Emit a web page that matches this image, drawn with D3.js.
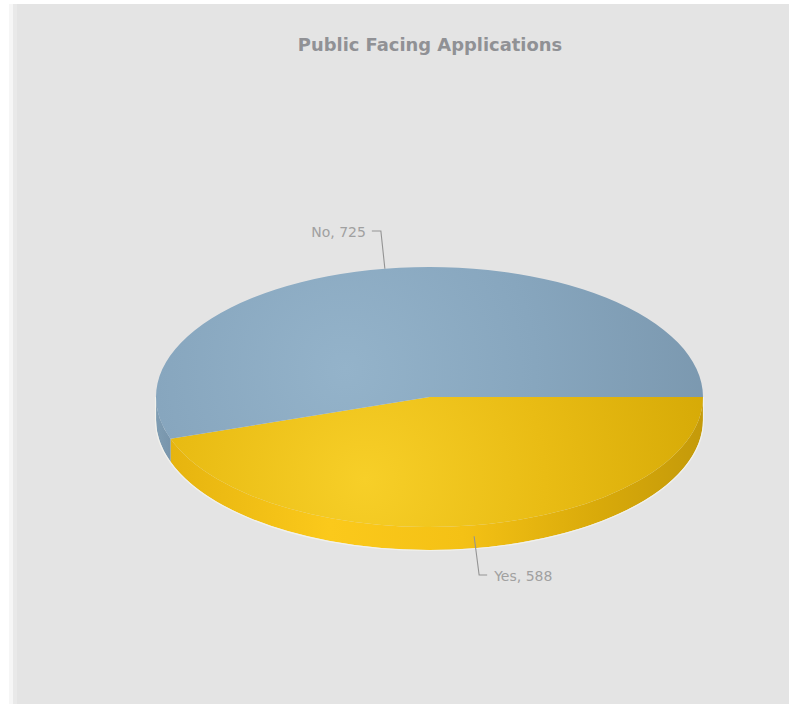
<!DOCTYPE html>
<html>
<head>
<meta charset="utf-8">
<script src="https://cdn.jsdelivr.net/npm/d3@7/dist/d3.min.js"></script>
<style>
  html, body { margin: 0; padding: 0; background: #fff; }
  svg { display: block; }
  text { font-family: "DejaVu Sans", sans-serif; }
</style>
</head>
<body>
<svg id="chart" width="789" height="704"></svg>
<script>
const chartTitle = "Public Facing Applications";
const categories = ["Yes", "No"];
const values = [588, 725];

const cx = 429.5, cy = 397, rx = 273.5, ry = 130, depth = 23;

const svg = d3.select("#chart");
const defs = svg.append("defs");

function addLinear(id, x1, x2, stops) {
  const g = defs.append("linearGradient").attr("id", id)
    .attr("gradientUnits", "userSpaceOnUse")
    .attr("x1", x1).attr("x2", x2).attr("y1", 0).attr("y2", 0);
  stops.forEach(([o, c]) => g.append("stop").attr("offset", o).attr("stop-color", c));
}
function addRadial(id, fx, fy, r, stops) {
  const g = defs.append("radialGradient").attr("id", id)
    .attr("gradientUnits", "userSpaceOnUse")
    .attr("cx", fx).attr("cy", fy).attr("r", r);
  stops.forEach(([o, c]) => g.append("stop").attr("offset", o).attr("stop-color", c));
}

addRadial("topYes", 365, 480, 360, [[0, "#f7cf28"], [0.5, "#e9bc14"], [1, "#d5a906"]]);
addRadial("topNo", 345, 370, 380, [[0, "#94b3ca"], [0.5, "#87a6be"], [1, "#7a97ae"]]);
addLinear("wallYes", 170, 703, [[0, "#e6b40f"], [0.3, "#fbc91b"], [0.55, "#f4c115"], [0.8, "#d9aa0a"], [1, "#c49a0a"]]);
addLinear("wallNo", 156, 172, [[0, "#7f9db3"], [1, "#7794ab"]]);

// Panel behind the chart, with its lighter left border
svg.append("rect").attr("x", 9).attr("y", 4).attr("width", 780).attr("height", 700).attr("fill", "#f6f6f6");
svg.append("rect").attr("x", 13).attr("y", 4).attr("width", 776).attr("height", 700).attr("fill", "#e9e9e9");
svg.append("rect").attr("x", 17).attr("y", 4).attr("width", 772).attr("height", 700).attr("fill", "#e4e4e4");

svg.append("text")
  .attr("x", 430).attr("y", 50.5)
  .attr("text-anchor", "middle")
  .attr("font-size", 17.9).attr("font-weight", 700)
  .attr("fill", "#909195")
  .text(chartTitle);

// Slices start at three o'clock and run clockwise
const pie = d3.pie().sort(null).startAngle(Math.PI / 2).endAngle(Math.PI / 2 + 2 * Math.PI);
const slices = pie(values);

const px = a => cx + rx * Math.sin(a);
const py = a => cy - ry * Math.cos(a);

// Rim of a slice between two pie angles
function wallPath(a0, a1) {
  const large = a1 - a0 > Math.PI ? 1 : 0;
  return `M${px(a0)},${py(a0)}A${rx},${ry} 0 ${large} 1 ${px(a1)},${py(a1)}` +
         `L${px(a1)},${py(a1) + depth}A${rx},${ry} 0 ${large} 0 ${px(a0)},${py(a0) + depth}Z`;
}

// Top face of a slice
function topPath(s) {
  const large = s.endAngle - s.startAngle > Math.PI ? 1 : 0;
  return `M${cx},${cy}L${px(s.startAngle)},${py(s.startAngle)}` +
         `A${rx},${ry} 0 ${large} 1 ${px(s.endAngle)},${py(s.endAngle)}Z`;
}

const wallFills = ["url(#wallYes)", "url(#wallNo)"];
const topFills = ["url(#topYes)", "url(#topNo)"];

// Only the part of the rim that faces the viewer is drawn (pie angles below 3π/2)
const frontEnd = 3 * Math.PI / 2;
slices.forEach((s, i) => {
  const end = Math.min(s.endAngle, frontEnd);
  if (s.startAngle < end) {
    svg.append("path").attr("d", wallPath(s.startAngle, end)).attr("fill", wallFills[i]);
  }
});

// Soft light edge along the lower silhouette
svg.append("path")
  .attr("d", `M${cx - rx - 0.5},${cy}L${cx - rx - 0.5},${cy + depth}A${rx + 0.5},${ry + 0.5} 0 0 0 ${cx + rx + 0.5},${cy + depth}L${cx + rx + 0.5},${cy}`)
  .attr("fill", "none").attr("stroke", "#f1f1ec").attr("stroke-width", 1.2);

svg.selectAll("path.top").data(slices).join("path")
  .attr("class", "top")
  .attr("d", topPath)
  .attr("fill", (d, i) => topFills[i]);

// Leader lines and value labels, anchored at each slice's mid angle
const labelLayout = [
  { bend: 5, tail: 13, yEnd: 575, anchor: "start", gap: 7 },
  { bend: -4, tail: -13, yEnd: 231, anchor: "end", gap: -6 }
];
slices.forEach((s, i) => {
  const mid = (s.startAngle + s.endAngle) / 2;
  const sx = px(mid);
  const startY = py(mid) + (i === 0 ? 11 : 0);
  const l = labelLayout[i];
  svg.append("path")
    .attr("d", `M${sx},${startY}L${sx + l.bend},${l.yEnd}L${sx + l.tail},${l.yEnd}`)
    .attr("fill", "none").attr("stroke", "#939393").attr("stroke-width", 1.1);
  svg.append("text")
    .attr("x", sx + l.tail + l.gap)
    .attr("y", l.yEnd + 6)
    .attr("text-anchor", l.anchor)
    .attr("font-size", 14)
    .attr("fill", "#a0a0a0")
    .text(`${categories[i]}, ${values[i]}`);
});
</script>
</body>
</html>
